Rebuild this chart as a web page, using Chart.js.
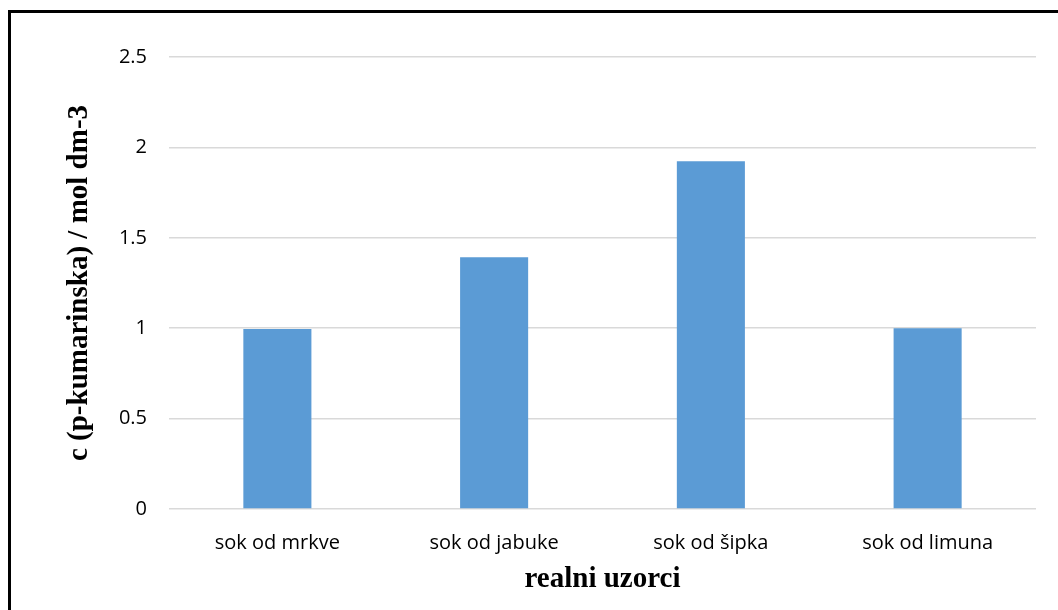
<!DOCTYPE html>
<html>
<head>
<meta charset="utf-8">
<script src="https://cdn.jsdelivr.net/npm/chart.js@4/dist/chart.umd.min.js"></script>
<style>
  html, body { margin: 0; padding: 0; background: #fff; }
  #wrap { position: relative; width: 1058px; height: 610px; overflow: hidden; }
  #frame { position: absolute; left: 8px; top: 10px; right: -10px; bottom: -10px;
           border-left: 3px solid #000; border-top: 3px solid #000; pointer-events: none; }
  canvas { position: absolute; left: 0; top: 0; }
</style>
</head>
<body>
<div id="wrap">
  <canvas id="c" width="1058" height="610"></canvas>
  <div id="frame"></div>
</div>
<script>
const categories = ['sok od mrkve', 'sok od jabuke', 'sok od šipka', 'sok od limuna'];
const values = [0.995, 1.392, 1.923, 1.0];
const yTicks = [0, 0.5, 1, 1.5, 2, 2.5];
const yTitle = 'c (p-kumarinska) / mol dm-3';
const xTitle = 'realni uzorci';

const tickFont = { family: 'Open Sans', size: 20 };
const titleFont = { family: 'Liberation Serif', size: 29, weight: 'bold', lineHeight: 1 };

new Chart(document.getElementById('c'), {
  type: 'bar',
  data: {
    labels: categories,
    datasets: [{
      data: values,
      backgroundColor: '#5B9BD5',
      borderWidth: 0,
      categoryPercentage: 1,
      barPercentage: 0.314
    }]
  },
  options: {
    responsive: false,
    animation: false,
    devicePixelRatio: 1,
    layout: { padding: { top: 57, right: 22, left: 0, bottom: 0 } },
    plugins: { legend: { display: false }, tooltip: { enabled: false } },
    scales: {
      x: {
        grid: { display: false, drawTicks: false },
        border: { display: false },
        ticks: { font: tickFont, color: '#000', padding: 22, maxRotation: 0 },
        title: { display: true, text: xTitle, font: titleFont, color: '#000', padding: { top: 16, bottom: 16 } },
        afterFit: s => { s.height = 101; }
      },
      y: {
        min: 0, max: 2.5,
        afterBuildTicks: s => { s.ticks = yTicks.map(v => ({ value: v })); },
        grid: { color: '#D9D9D9', lineWidth: 1.5, drawTicks: false },
        border: { display: false },
        ticks: { font: tickFont, color: '#000', padding: 22, callback: v => String(v) },
        title: { display: true, text: yTitle, font: titleFont, color: '#000', padding: { top: 65, bottom: 65 } },
        afterFit: s => { s.width = 169; }
      }
    }
  }
});
</script>
</body>
</html>
